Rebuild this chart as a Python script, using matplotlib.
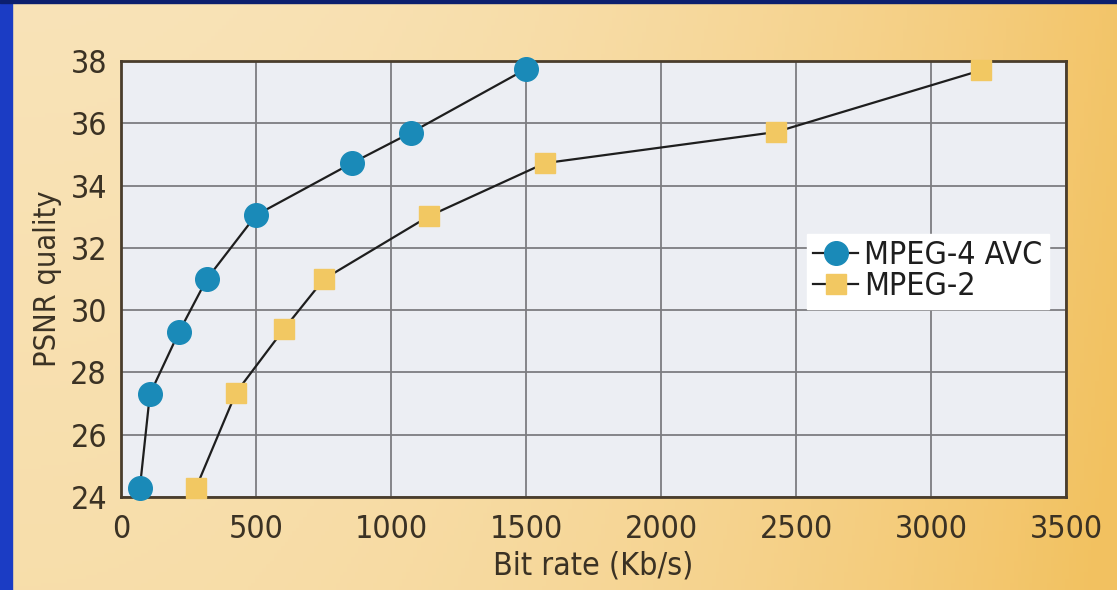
import numpy as np
import matplotlib.pyplot as plt
from matplotlib.lines import Line2D

# data
avcRate = [70, 107, 215, 318, 500, 855, 1074, 1500]
avcPsnr = [24.3, 27.3, 29.3, 31.0, 33.05, 34.72, 35.7, 37.74]
mpeg2Rate = [278, 426, 604, 752, 1141, 1570, 2426, 3185]
mpeg2Psnr = [24.3, 27.35, 29.4, 31.0, 33.02, 34.72, 35.72, 37.7]
xTicks = [0, 500, 1000, 1500, 2000, 2500, 3000, 3500]
yTicks = [24, 26, 28, 30, 32, 34, 36, 38]

W, H = 1117, 590
fig = plt.figure(figsize=(W/100, H/100), dpi=100)
plt.rcParams['font.family'] = ['DejaVu Sans']
plt.rcParams['font.stretch'] = 'condensed'
textCol = '#3b3224'

# background: blue frame + beige/orange panel
bg = fig.add_axes([0, 0, 1, 1], zorder=-5)
bg.set_axis_off()
gx = np.linspace(0, 1, 300)
gy = np.linspace(0, 1, 160)
GX, GY = np.meshgrid(gx, gy)
c0 = np.array([0.975, 0.89, 0.72])
c1 = np.array([0.95, 0.76, 0.38])
t = np.clip(GX**2.2 * 0.9 + (1-GY)*0.15, 0, 1)[..., None]
img = c0*(1-t) + c1*t
bg.imshow(img, extent=[12/W, 1, 0, 1-3/H], aspect='auto', origin='lower')
bg.add_patch(plt.Rectangle((0, 0), 12/W, 1, color='#1b3cc4'))
bg.add_patch(plt.Rectangle((0, 1-3/H), 1, 3/H, color='#0c1f6e'))
bg.set_xlim(0, 1)
bg.set_ylim(0, 1)

ax = fig.add_axes([121/W, 1-497/H, (1066-121)/W, (497-61)/H])
ax.set_facecolor('#eceef3')
ax.plot(avcRate, avcPsnr, color='#1e1e1e', lw=1.6, marker='o', ms=17,
        mfc='#1a8ab8', mec='#1a8ab8', clip_on=False, zorder=3)
ax.plot(mpeg2Rate, mpeg2Psnr, color='#1e1e1e', lw=1.6, marker='s', ms=14,
        mfc='#f2c862', mec='#f2c862', clip_on=False, zorder=3)
ax.set_xlim(0, 3500)
ax.set_ylim(24, 38)
ax.set_xticks(xTicks)
ax.set_yticks(yTicks)
ax.tick_params(length=0, labelsize=23, colors=textCol)
ax.tick_params(axis='x', pad=12)
ax.tick_params(axis='y', pad=10)
ax.grid(color='#7d7d80', lw=1.3)
ax.set_axisbelow(True)
for s in ax.spines.values():
    s.set_color('#4a3d2c')
    s.set_linewidth(2)
ax.set_xlabel('Bit rate (Kb/s)', fontsize=23, color=textCol, labelpad=4)
ax.set_ylabel('PSNR quality', fontsize=22, color=textCol, labelpad=6)

handles = [
    Line2D([], [], color='#1e1e1e', lw=1.6, marker='o', ms=17, mfc='#1a8ab8', mec='#1a8ab8'),
    Line2D([], [], color='#1e1e1e', lw=1.6, marker='s', ms=14, mfc='#f2c862', mec='#f2c862'),
]
leg = ax.legend(handles, ['MPEG-4 AVC', 'MPEG-2'], loc='upper left',
                bbox_to_anchor=((807-121)/945, (497-234)/436), fontsize=23,
                frameon=True, fancybox=False, framealpha=1, edgecolor='white',
                handlelength=1.4, handletextpad=0.2, borderpad=0.2,
                labelspacing=0.0, borderaxespad=0)
for tx in leg.get_texts():
    tx.set_color('#1e1e1e')

fig.savefig('out.png', dpi=100)
